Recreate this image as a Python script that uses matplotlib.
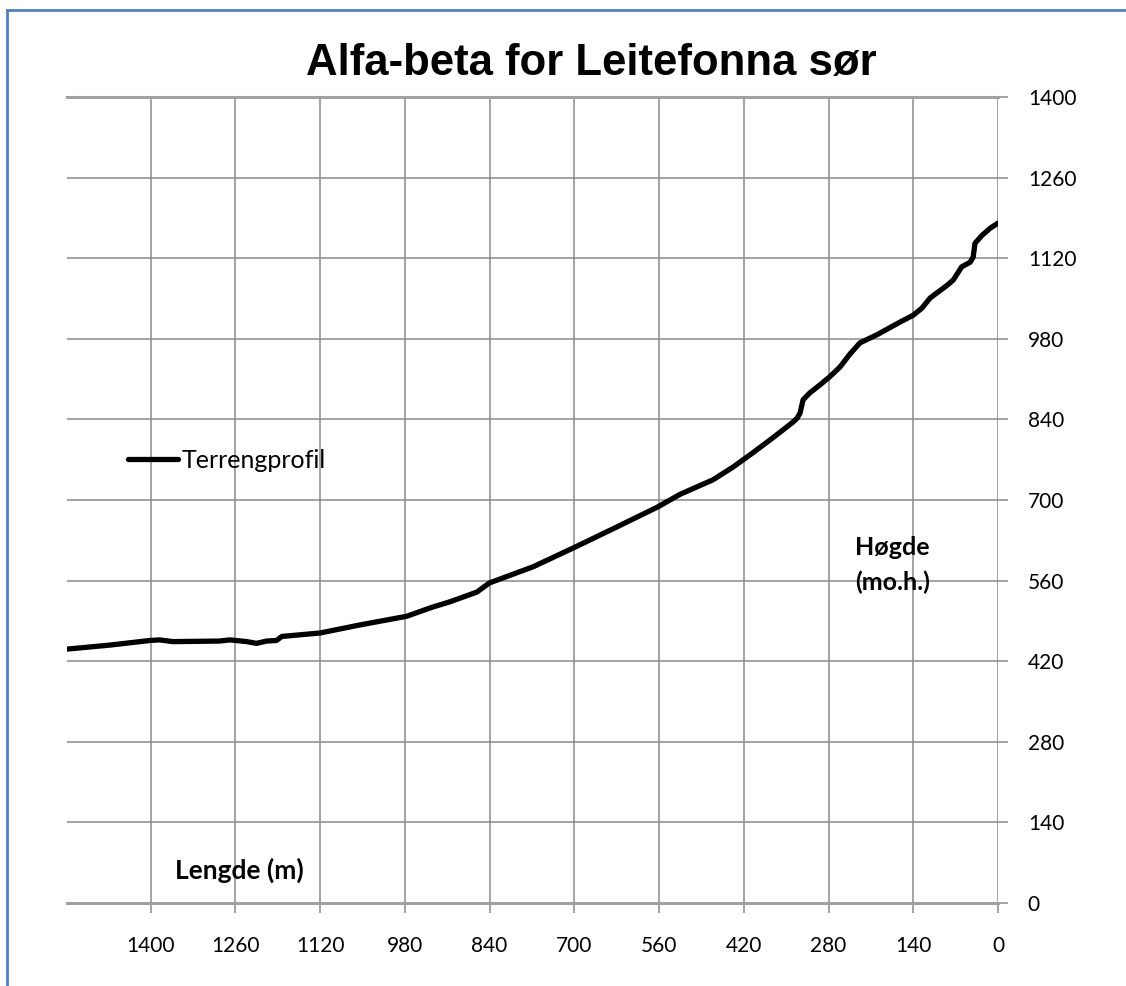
import matplotlib.pyplot as plt
from matplotlib.lines import Line2D

# terrengprofil: lengde (m, frå toppen) og høgde (moh)
lengde = [1538, 1467, 1401, 1385, 1363, 1286, 1269, 1241, 1225, 1208, 1192, 1183,
          1120, 1054, 977, 934, 906, 861, 840, 768, 699, 630, 562, 525, 471, 438,
          405, 372, 339, 332, 327, 322, 311, 294, 278, 261, 245, 228, 200, 162,
          140, 126, 112, 84, 74, 60, 46, 41, 38, 26, 13, 0]
hogde = [441, 448, 456, 457, 454, 455, 457, 454, 451, 455, 456, 463,
         469, 483, 498, 514, 523, 540, 556, 584, 618, 653, 688, 710, 735, 757,
         782, 808, 835, 842, 851, 874, 886, 900, 914, 931, 953, 973, 987, 1009,
         1021, 1033, 1051, 1073, 1082, 1105, 1113, 1122, 1146, 1160, 1172, 1181]

x_ticks = [1400, 1260, 1120, 980, 840, 700, 560, 420, 280, 140, 0]
y_ticks = [0, 140, 280, 420, 560, 700, 840, 980, 1120, 1260, 1400]

TICK_FONT = ['Lato', 'DejaVu Sans']
TITLE_FONT = ['Liberation Sans', 'DejaVu Sans']
GRID = '#8a8a8a'

fig = plt.figure(figsize=(11.26, 9.86), dpi=100)
ax = fig.add_axes([67 / 1126, 1 - 903 / 986, (998 - 67) / 1126, (903 - 97) / 986])

ax.plot(lengde, hogde, color='black', lw=3.8, solid_capstyle='round',
        solid_joinstyle='round', label='Terrengprofil')

ax.set_xlim(1538, 0)
ax.set_ylim(0, 1400)
ax.set_xticks(x_ticks)
ax.set_yticks(y_ticks)
ax.set_xticklabels([str(v) for v in x_ticks], family=TICK_FONT, fontsize=15)
ax.set_yticklabels([str(v) for v in y_ticks], family=TICK_FONT, fontsize=15)
ax.yaxis.tick_right()
ax.tick_params(axis='x', direction='out', length=7.5, width=1.1, color=GRID, pad=16)
ax.tick_params(axis='y', direction='out', length=7.5, width=1.1, color=GRID, pad=14)
ax.grid(True, color=GRID, lw=1.1)
ax.set_axisbelow(True)

for side in ['left', 'right']:
    ax.spines[side].set_visible(False)
for side in ['top', 'bottom']:
    ax.spines[side].set_color('#a0a0a0')
    ax.spines[side].set_linewidth(2.2)

ax.legend(loc='center left', bbox_to_anchor=(0.065, 0.5496), frameon=False,
          handlelength=2.0, handletextpad=0.15, borderaxespad=0, borderpad=0,
          prop={'family': TICK_FONT, 'size': 18})

fig.text(591 / 1126, 1 - 63 / 986, 'Alfa-beta for Leitefonna sør', ha='center',
         va='center', family=TITLE_FONT, fontsize=31.5, fontweight='bold')
fig.text(175 / 1126, 1 - 870 / 986, 'Lengde (m)', ha='left', va='center',
         family=TICK_FONT, fontsize=19, fontweight='bold')
fig.text(855 / 1126, 1 - 565 / 986, 'Høgde\n(mo.h.)', ha='left', va='center',
         family=TICK_FONT, fontsize=18, fontweight='bold', linespacing=1.55)

# blå ramme rundt diagrammet
fig.add_artist(Line2D([7 / 1126, 7 / 1126], [0, 1 - 10 / 986],
                      color='#4f81bd', lw=2, transform=fig.transFigure))
fig.add_artist(Line2D([7 / 1126, 1], [1 - 10 / 986, 1 - 10 / 986],
                      color='#4f81bd', lw=2, transform=fig.transFigure))

fig.savefig('out.png', dpi=100)
